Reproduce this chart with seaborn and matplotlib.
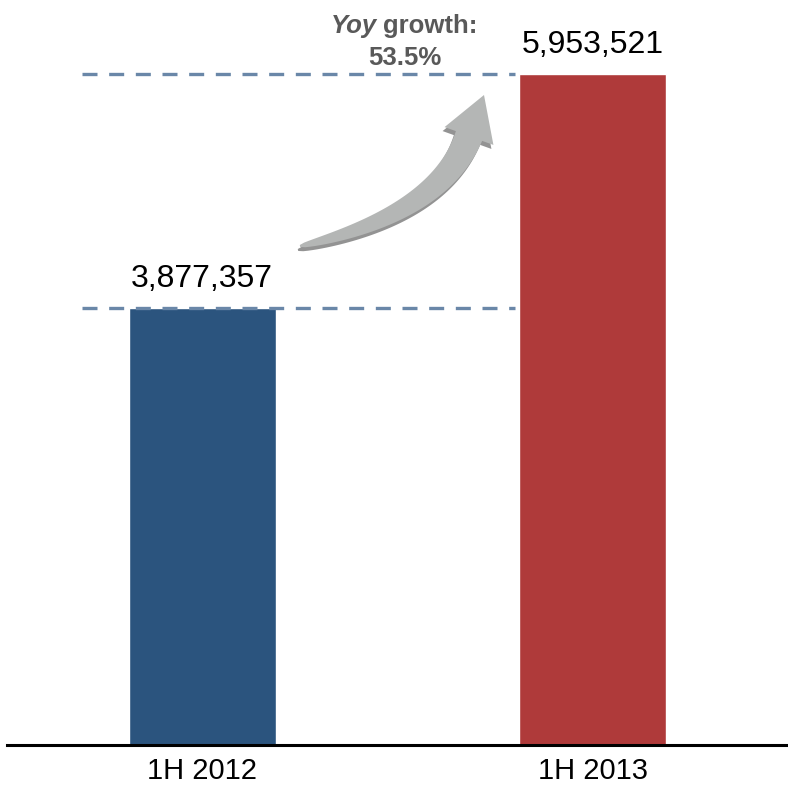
import matplotlib
matplotlib.use("Agg")
import numpy as np
import matplotlib.pyplot as plt
from matplotlib.patches import Polygon
import seaborn as sns

categories = ["1H 2012", "1H 2013"]
values = [3877357, 5953521]
value_labels = ["3,877,357", "5,953,521"]
bar_colors = ["#2B547E", "#AF3A3A"]
growth_pct = "53.5%"

sns.set_theme(style="white")
plt.rcParams['font.family'] = ['Liberation Sans', 'DejaVu Sans']

W, H = 788, 789
fig = plt.figure(figsize=(W / 100, H / 100), dpi=100)
ax = fig.add_axes([7 / W, (H - 745) / H, (788 - 7) / W, 745 / H])

sns.barplot(x=categories, y=values, hue=categories, palette=bar_colors,
            width=0.376, legend=False, ax=ax, saturation=1)

ax.set_xlim(-0.5, 1.5)
ax.set_ylim(0, 745 * 8873)
ax.set_yticks([])
ax.set_ylabel("")
ax.set_xlabel("")
for s in ["top", "right", "left"]:
    ax.spines[s].set_visible(False)
ax.spines["bottom"].set_color("black")
ax.spines["bottom"].set_linewidth(2.2)
ax.tick_params(axis="x", length=0, pad=8.5)
for lbl in ax.get_xticklabels():
    lbl.set_fontsize(21)
    lbl.set_color("black")

# dashed reference lines
for v in values:
    ax.hlines(v, -0.308, 0.801, colors="#6A87A8", linewidth=2.4,
              linestyles=(0, (4.5, 3.5)), zorder=3)

# value labels
for i, (v, t) in enumerate(zip(values, value_labels)):
    ax.annotate(t, xy=(i, v), xytext=(0, 15), textcoords="offset points",
                ha="center", va="baseline", fontsize=23, color="black")


# curved growth arrow (decoration), built in figure pixels (y down)
def arrow_shape(p0, p1, p2, tip, w0, w1, head_half):
    p0, p1, p2, tip = map(np.asarray, (p0, p1, p2, tip))
    t = np.linspace(0, 1, 60)[:, None]
    pts = (1 - t) ** 2 * p0 + 2 * (1 - t) * t * p1 + t ** 2 * p2
    d = 2 * (1 - t) * (p1 - p0) + 2 * t * (p2 - p1)
    d = d / np.linalg.norm(d, axis=1, keepdims=True)
    n = np.column_stack([-d[:, 1], d[:, 0]])
    w = (w0 + (w1 - w0) * t ** 0.55) / 2
    left = pts + n * w
    right = pts - n * w
    hd = (tip - p2) / np.linalg.norm(tip - p2)
    hn = np.array([-hd[1], hd[0]])
    head = [p2 + hn * head_half, tip, p2 - hn * head_half]
    poly = np.vstack([left, head, right[::-1]])
    return poly


def to_fig(poly, dx=0.0, dy=0.0):
    return np.column_stack([(poly[:, 0] + dx) / W, (H - (poly[:, 1] + dy)) / H])


shape = arrow_shape((300, 246), (440, 214), (469, 136), (484, 95), 2, 28, 26)
fig.add_artist(Polygon(to_fig(shape, -2, 4), closed=True, transform=fig.transFigure,
                       facecolor="#939393", edgecolor="none"))
fig.add_artist(Polygon(to_fig(shape), closed=True, transform=fig.transFigure,
                       facecolor="#B4B6B5", edgecolor="none"))

# growth text
fig.text(377 / W, (H - 33) / H, "Yoy", ha="right", va="baseline",
         fontsize=18.5, fontweight="bold", fontstyle="italic", color="#595959")
fig.text(383 / W, (H - 33) / H, "growth:", ha="left", va="baseline",
         fontsize=18.5, fontweight="bold", color="#595959")
fig.text(405 / W, (H - 65) / H, growth_pct, ha="center", va="baseline",
         fontsize=18.5, fontweight="bold", color="#595959")

fig.savefig("out.png", dpi=100)
